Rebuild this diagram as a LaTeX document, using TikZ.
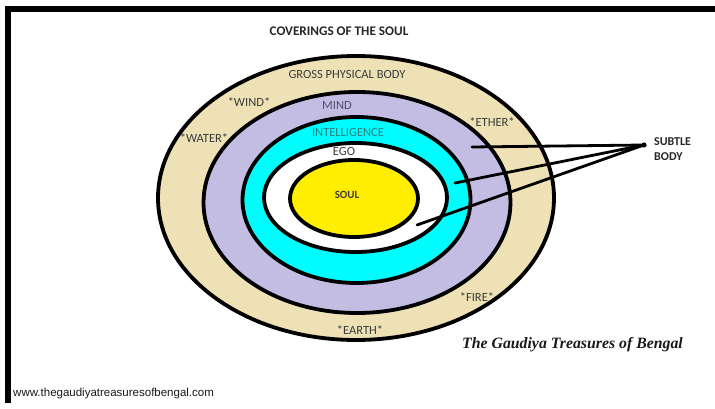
\documentclass[tikz,border=0pt]{standalone}
\usepackage{fontspec}
\setmainfont{Carlito}
\newfontfamily\webfont{Liberation Sans}
\newfontfamily\creditfont{Liberation Serif}
\usetikzlibrary{shapes.geometric}
\definecolor{tanband}{HTML}{EDE1B5}
\definecolor{lavband}{HTML}{C4BDE3}
\definecolor{cyanband}{HTML}{00FCFC}
\definecolor{soulyellow}{HTML}{FFEE00}
\definecolor{labelgray}{HTML}{3C3C3C}
\definecolor{mindgray}{HTML}{4E4E6E}
\definecolor{intelteal}{HTML}{2A8282}
\tikzset{
  ring/.style={ellipse, draw=black, line width=3.8pt, inner sep=0pt, outer sep=0pt},
  lbl/.style={inner sep=0pt, text=labelgray, font=\fontsize{12.5}{14}\selectfont},
  boldlbl/.style={inner sep=0pt, text=black!85, font=\bfseries\fontsize{12}{14}\selectfont},
  conn/.style={draw=black, line width=2.8pt, line cap=round},
  framebar/.style={fill=black}
}
\begin{document}
\begin{tikzpicture}[x=1pt,y=-1pt]
\useasboundingbox (0,0) rectangle (715,409);
\fill[white] (0,0) rectangle (715,409);
% frame
\fill[framebar] (5,6) rectangle (715,12);
\fill[framebar] (5,6) rectangle (11,403);
% title
\node[inner sep=0pt, text=black!85, font=\bfseries\fontsize{13.2}{16}\selectfont] (title) at (339,31) {COVERINGS OF THE SOUL};
% rings
\node[ring, fill=tanband, minimum width=396pt, minimum height=284pt] (gross) at (356,198) {};
\node[ring, fill=lavband, minimum width=307pt, minimum height=221pt] (mind) at (357,202.5) {};
\node[ring, fill=cyanband, minimum width=228pt, minimum height=166pt] (intel) at (356.5,200) {};
\node[ring, fill=white, minimum width=183pt, minimum height=109pt] (ego) at (355.5,197.5) {};
\node[ring, fill=soulyellow, minimum width=128pt, minimum height=77pt] (soul) at (354,198.5) {};
% ring labels
\node[lbl] (lgross) at (347,74) {GROSS PHYSICAL BODY};
\node[lbl] (lwind) at (249,102) {*WIND*};
\node[lbl] (lwater) at (204,138) {*WATER*};
\node[lbl, text=mindgray] (lmind) at (337,105) {MIND};
\node[lbl] (lether) at (492,122) {*ETHER*};
\node[lbl, text=intelteal] (lintel) at (348,132) {INTELLIGENCE};
\node[lbl] (lego) at (344,151) {EGO};
\node[inner sep=0pt, text=labelgray, font=\bfseries\fontsize{11}{13}\selectfont] (lsoul) at (347,195) {SOUL};
\node[lbl] (lfire) at (477,297) {*FIRE*};
\node[lbl] (learth) at (360,330) {*EARTH*};
% subtle body connectors
\coordinate (hub) at (644,145);
\coordinate (e1) at (472,147);
\coordinate (e2) at (455,183);
\coordinate (e3) at (417,225);
\draw[conn] (hub) -- (e1);
\draw[conn] (hub) -- (e2);
\draw[conn] (hub) -- (e3);
\fill[black] (hub) circle (2.6pt);
\node[boldlbl, anchor=west] (lsubtle) at (654,142) {SUBTLE};
\node[boldlbl, anchor=west] (lbody) at (654,157) {BODY};
% credits
\node[inner sep=0pt, anchor=west, text=black!90, font=\creditfont\bfseries\itshape\fontsize{15.8}{18}\selectfont] (credit) at (462,345) {The Gaudiya Treasures of Bengal};
\node[inner sep=0pt, anchor=west, text=black!90, font=\webfont\fontsize{11.5}{13}\selectfont] (web) at (13,394) {www.thegaudiyatreasuresofbengal.com};
\end{tikzpicture}
\end{document}
